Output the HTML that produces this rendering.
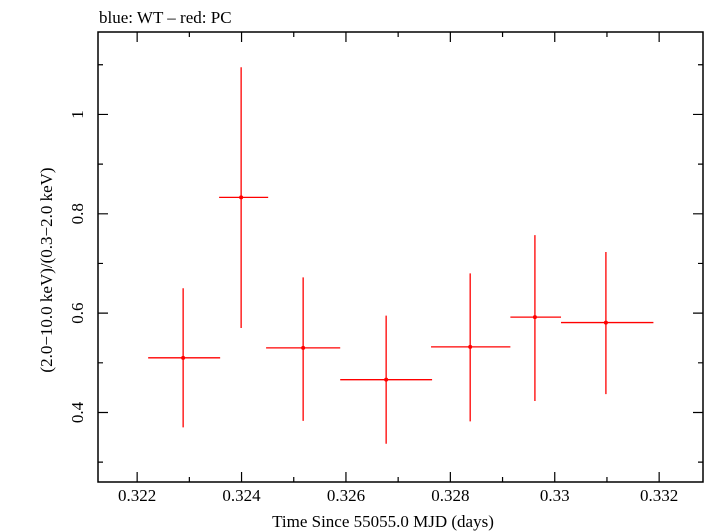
<!DOCTYPE html>
<html><head><meta charset="utf-8"><style>
body{margin:0;background:#fff}
svg{display:block;font-family:"Liberation Serif",serif}
</style></head><body>
<svg id="chart" width="705" height="532" xmlns="http://www.w3.org/2000/svg">
<text x="99" y="23" font-size="17">blue: WT – red: PC</text>
<g id="axes"></g>
<g id="series"></g>
<text x="383" y="527" font-size="17" text-anchor="middle">Time Since 55055.0 MJD (days)</text>
<text transform="translate(52,270) rotate(-90)" font-size="17" text-anchor="middle">(2.0−10.0 keV)/(0.3−2.0 keV)</text>
</svg>
<script>
const times=[0.322881,0.323992,0.32518,0.32677,0.32838,0.32962,0.33098];
const timeLo=[0.322211,0.32357,0.32447,0.32589,0.32763,0.32915,0.33012];
const timeHi=[0.32359,0.32451,0.32589,0.32765,0.32915,0.33012,0.33189];
const ratio=[0.51,0.833,0.53,0.466,0.532,0.592,0.581];
const ratioLo=[0.37,0.57,0.383,0.337,0.382,0.423,0.437];
const ratioHi=[0.65,1.095,0.672,0.595,0.68,0.757,0.723];
const xTicks=[0.322,0.324,0.326,0.328,0.33,0.332];
const xTickLabels=["0.322","0.324","0.326","0.328","0.33","0.332"];
const yTicks=[0.4,0.6,0.8,1];
const yTickLabels=["0.4","0.6","0.8","1"];
const L=98,R=703,T=32,B=482;
const X0=0.32125,X1=0.33284,Y0=0.26,Y1=1.166;
function xs(v){return L+(v-X0)/(X1-X0)*(R-L);}
function ys(v){return B-(v-Y0)/(Y1-Y0)*(B-T);}
const NS="http://www.w3.org/2000/svg";
function mk(tag,attrs,parent){const e=document.createElementNS(NS,tag);for(const k in attrs)e.setAttribute(k,attrs[k]);parent.appendChild(e);return e;}
const ax=document.getElementById('axes');
const frame=mk('rect',{x:L,y:T,width:R-L,height:B-T,fill:'none',stroke:'#000','stroke-width':1.5},ax);


for(let i=0;i<=12;i++){const v=0.321+i*0.001;const x=xs(v);if(x<L||x>R)continue;
 const major=Math.abs(Math.round(v*500)-v*500)<1e-6;const len=major?10:5;
 const t=mk('path',{d:`M${x},${B}v${-len}M${x},${T}v${len}`,stroke:'#000','stroke-width':1.2},ax);
 
 }
xTicks.forEach((v,i)=>{const t=mk('text',{x:xs(v),y:501,'font-size':17,'text-anchor':'middle'},ax);t.textContent=xTickLabels[i];
 
 });
for(let i=3;i<=11;i++){const v=i*0.1;const y=ys(v);if(y<T||y>B)continue;
 const len=(i%2==0)?10:5;
 const t=mk('path',{d:`M${L},${y}h${len}M${R},${y}h${-len}`,stroke:'#000','stroke-width':1.2},ax);
 
 }
yTicks.forEach((v,i)=>{const t=mk('text',{transform:`translate(83,${ys(v)}) rotate(-90)`,'font-size':17,'text-anchor':'middle'},ax);t.textContent=yTickLabels[i];
 
 });
const sr=document.getElementById('series');
times.forEach((t,i)=>{const g=mk('g',{stroke:'#f00','stroke-width':1.3},sr);
 
 
 mk('path',{d:`M${xs(timeLo[i])},${ys(ratio[i])}H${xs(timeHi[i])}M${xs(t)},${ys(ratioLo[i])}V${ys(ratioHi[i])}`},g);
 mk('circle',{cx:xs(t),cy:ys(ratio[i]),r:2,fill:'#f00',stroke:'none'},g);});
</script>
</body></html>
